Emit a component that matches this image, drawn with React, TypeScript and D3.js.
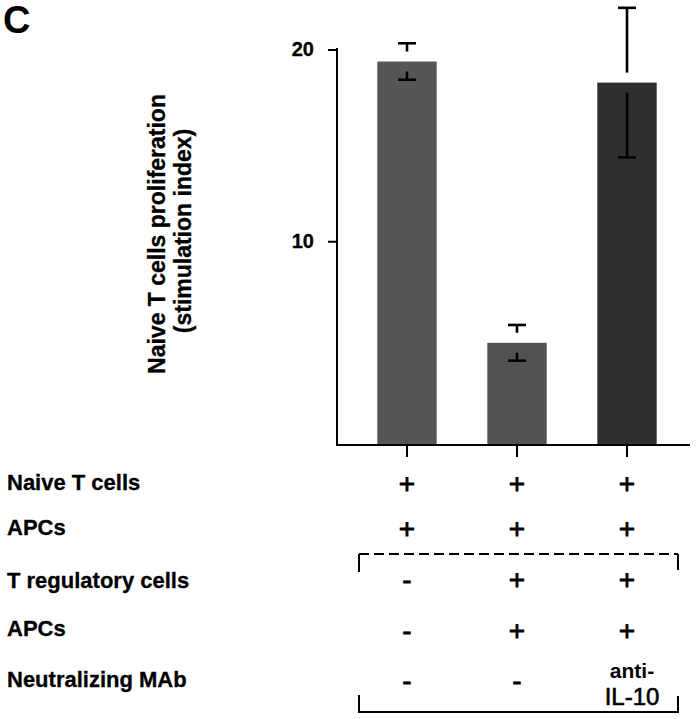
import React from 'react';
import * as d3 from 'd3';

const categories = ['control', 'tregs', 'tregsAntiIL10'];
const values = [19.4, 4.73, 18.3];
const errors = [0.95, 0.93, 3.9];
const barColors = ['#565656', '#525252', '#2f2f2f'];
const yTicks = [10, 20];
const rowLabels = ['Naive T cells', 'APCs', 'T regulatory cells', 'APCs', 'Neutralizing MAb'];
const tableMarks = [
  ['+', '+', '+'],
  ['+', '+', '+'],
  ['-', '+', '+'],
  ['-', '+', '+'],
  ['-', '-', 'anti-|IL-10'],
];
const yLabelLines = ['Naive T cells proliferation', '(stimulation index)'];

const W = 698;
const H = 719;
const FONT = '"Liberation Sans", Arial, Helvetica, sans-serif';

export default function App() {
  const axisX = 337;
  const axisBottom = 445;
  const y = d3.scaleLinear().domain([-0.6, 20]).range([axisBottom, 50]);
  const x = d3
    .scaleBand<string>()
    .domain(categories)
    .range([352, 682])
    .paddingInner(0.46)
    .paddingOuter(0.23);
  const bw = x.bandwidth();
  const gap = 10;
  const capW = 18;
  const rowY = [483, 528, 579, 630, 680];
  const labelBaseline = [490, 535, 588, 636, 687];

  return (
    <svg
      width={W}
      height={H}
      viewBox={`0 0 ${W} ${H}`}
      style={{ position: 'absolute', left: 0, top: 0, background: '#fff' }}
      fontFamily={FONT}
    >
      <rect x={0} y={0} width={W} height={H} fill="#fff" />
      {/* panel letter */}
      <text x={3} y={33} fontSize={38} fontWeight="bold" fill="#000">C</text>

      {/* y-axis label */}
      {yLabelLines.map((t, i) => (
        <text
          key={t}
          transform={`translate(${i === 0 ? 165 : 191},${i === 0 ? 234 : 231}) rotate(-90)`}
          textAnchor="middle"
          fontSize={23}
          fontWeight="bold"
          fill="#000"
          stroke="#000"
          strokeWidth={0.3}
        >
          {t}
        </text>
      ))}

      {/* bars */}
      {categories.map((c, i) => (
        <rect
          key={c}
          x={x(c)!}
          y={y(values[i])}
          width={bw}
          height={axisBottom - y(values[i])}
          fill={barColors[i]}
        />
      ))}

      {/* error bars */}
      {categories.map((c, i) => {
        const cx = x(c)! + bw / 2;
        const top = y(values[i]);
        const hi = y(values[i] + errors[i]);
        const lo = y(values[i] - errors[i]);
        return (
          <g key={c} stroke="#000" strokeWidth={2.6} fill="none">
            <line x1={cx} x2={cx} y1={hi} y2={top - gap} />
            <line x1={cx - capW / 2} x2={cx + capW / 2} y1={hi} y2={hi} />
            <line x1={cx} x2={cx} y1={top + gap} y2={lo} />
            <line x1={cx - capW / 2} x2={cx + capW / 2} y1={lo} y2={lo} />
          </g>
        );
      })}

      {/* axes */}
      <line x1={axisX} x2={axisX} y1={48} y2={axisBottom + 1} stroke="#000" strokeWidth={2} />
      <line x1={axisX - 1} x2={690} y1={axisBottom} y2={axisBottom} stroke="#000" strokeWidth={2} />
      {yTicks.map((t) => (
        <g key={t}>
          <line x1={axisX - 9} x2={axisX} y1={y(t)} y2={y(t)} stroke="#000" strokeWidth={2} />
          <text
            x={314}
            y={y(t) - 1}
            dominantBaseline="central"
            textAnchor="end"
            fontSize={20}
            fontWeight="bold"
            fill="#000"
            stroke="#000"
            strokeWidth={0.3}
          >
            {t}
          </text>
        </g>
      ))}
      {categories.map((c) => (
        <line
          key={c}
          x1={x(c)! + bw / 2}
          x2={x(c)! + bw / 2}
          y1={axisBottom}
          y2={axisBottom + 12}
          stroke="#000"
          strokeWidth={2}
        />
      ))}

      {/* condition table */}
      {rowLabels.map((l, r) => (
        <text
          key={r}
          x={7}
          y={labelBaseline[r]}
          fontSize={22}
          fontWeight="bold"
          fill="#000"
          stroke="#000"
          strokeWidth={0.3}
        >
          {l}
        </text>
      ))}
      {tableMarks.map((row, r) =>
        row.map((m, i) => {
          const cx = x(categories[i])! + bw / 2;
          if (m.includes('|')) {
            const [a, b] = m.split('|');
            return (
              <g key={`${r}-${i}`} fill="#000" textAnchor="middle">
                <text x={cx + 5} y={678} fontSize={21} fontWeight="bold">{a}</text>
                <text x={cx + 5} y={705} fontSize={24} stroke="#000" strokeWidth={0.6}>{b}</text>
              </g>
            );
          }
          return (
            <text
              key={`${r}-${i}`}
              x={cx}
              y={rowY[r]}
              dominantBaseline="central"
              textAnchor="middle"
              fontSize={28}
              fill="#000"
              stroke="#000"
              strokeWidth={0.8}
            >
              {m}
            </text>
          );
        })
      )}

      {/* dashed bracket */}
      <g stroke="#000" strokeWidth={2} fill="none">
        <line x1={359} x2={359} y1={554} y2={572} />
        <line x1={678} x2={678} y1={554} y2={570} />
        <line x1={359} x2={678} y1={554} y2={554} strokeDasharray="10,5" />
      </g>
      {/* bottom bracket */}
      <g stroke="#000" strokeWidth={2} fill="none">
        <polyline points="359,695 359,712 678,712 678,696" />
      </g>
    </svg>
  );
}
